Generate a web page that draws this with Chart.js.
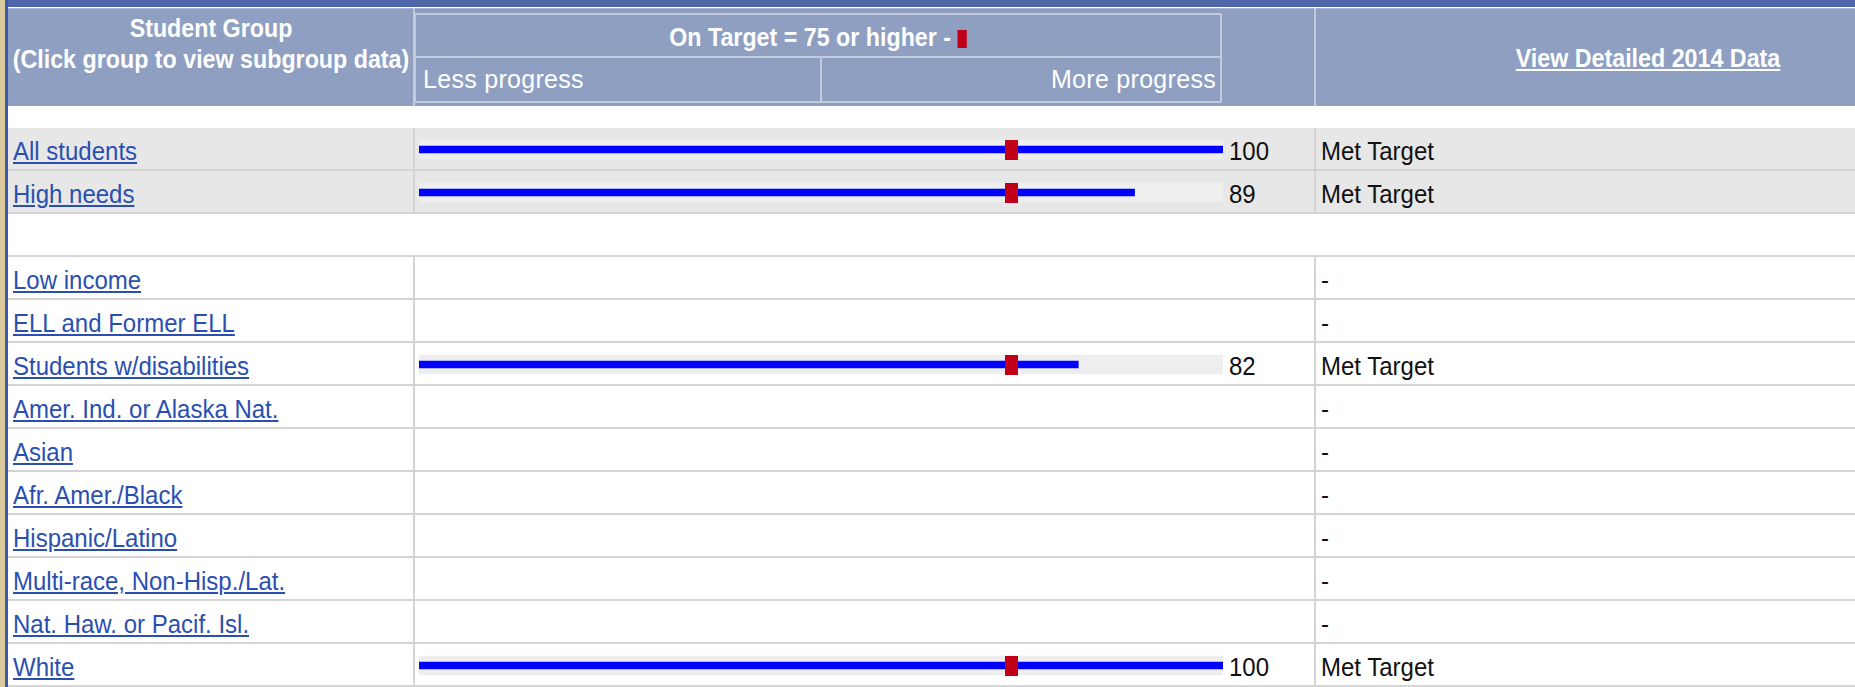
<!DOCTYPE html>
<html>
<head>
<meta charset="utf-8">
<script src="https://cdn.jsdelivr.net/npm/chart.js@4/dist/chart.umd.min.js"></script>
<style>
  body { margin: 0; width: 1855px; height: 687px; overflow: hidden; background: #fff;
         font-family: "Liberation Sans", Arial, sans-serif; }
  .abs { position: absolute; }
  #topbar { left: 0; top: 0; width: 1855px; height: 7px; background: #4f67a8; }
  #edge { left: 0; top: 0; width: 5px; height: 687px; background: #dccb9e; }
  #edgeLine { left: 5px; top: 0; width: 3px; height: 687px; background: #3c58a8; }
  #head { left: 8px; top: 8px; width: 1847px; height: 97px; background: #8e9fc2; border-top: 1px solid #a9b5d0; }
  .hdiv { top: 8px; width: 2px; height: 98px; background: #c3cbdb; }
  .hbox { border: 2px solid #c3cbdb; box-sizing: border-box; }
  .htxt { color: #fff; font-weight: bold; font-size: 25px; line-height: 29px; text-align: center;
          white-space: nowrap; transform: scaleX(0.93); }
  .hlight { color: #fff; font-size: 25px; line-height: 29px; letter-spacing: 0.3px; white-space: nowrap; }
  .row { left: 8px; width: 1847px; height: 43px; box-sizing: border-box; border-bottom: 2px solid #d4d4d4; }
  .lbl, .val, .stat { font-size: 25px; line-height: 29px; white-space: nowrap;
                      transform: scaleX(0.96); transform-origin: left top; }
  .lbl { color: #2a4fb0; text-decoration: underline; left: 13px; }
  .val, .stat { color: #111; }
  .vdiv { width: 2px; background: #d4d4d4; }
  #chartBox { left: 419px; top: 128px; width: 804px; height: 559px; }
</style>
</head>
<body>
<div id="topbar" class="abs"></div>
<div id="head" class="abs"></div>
<div class="abs hdiv" style="left:413px"></div>
<div class="abs hdiv" style="left:1314px"></div>
<div class="abs hbox" style="left:414px; top:13px; width:808px; height:90px;"></div>
<div class="abs" style="left:414px; top:56px; width:808px; height:2px; background:#c3cbdb"></div>
<div class="abs" style="left:820px; top:56px; width:2px; height:46px; background:#c3cbdb"></div>
<div class="abs htxt" style="left:-40px; width:502px; top:14px;">Student Group</div>
<div class="abs htxt" style="left:-40px; width:502px; top:45px;">(Click group to view subgroup data)</div>
<div class="abs htxt" id="targetTitle" style="left:414px; width:808px; top:23px;"></div>
<div class="abs hlight" style="left:423px; top:65px;">Less progress</div>
<div class="abs hlight" style="left:822px; width:394px; top:65px; text-align:right;">More progress</div>
<div class="abs htxt" style="left:1316px; width:664px; top:44px; text-decoration:underline;">View Detailed 2014 Data</div>
<div id="rows"></div>
<div id="chartBox" class="abs"><canvas id="progressChart" width="804" height="559"></canvas></div>
<div id="edge" class="abs"></div>
<div id="edgeLine" class="abs"></div>

<script>
// 학생 그룹 (빈 문자열 = 구분용 빈 행)
const groups = ["All students", "High needs", "", "Low income", "ELL and Former ELL",
    "Students w/disabilities", "Amer. Ind. or Alaska Nat.", "Asian", "Afr. Amer./Black",
    "Hispanic/Latino", "Multi-race, Non-Hisp./Lat.", "Nat. Haw. or Pacif. Isl.", "White"];
const scores = [100, 89, null, null, null, 82, null, null, null, null, null, null, 100];
const statusText = ["Met Target", "Met Target", "", "-", "-", "Met Target", "-", "-", "-", "-", "-", "-", "Met Target"];
const targetValue = 75;      // 제목의 기준값
const targetMarker = 73.7;   // 그림에서 읽은 빨간 표시 위치
const scaleMax = 100;

document.getElementById("targetTitle").innerHTML =
    "On Target = " + targetValue + " or higher - " +
    '<span style="display:inline-block;width:10px;height:18px;background:#c00018;vertical-align:-2px"></span>';

// 표 행 만들기
const rowsDiv = document.getElementById("rows");
groups.forEach((g, i) => {
    const top = 128 + 43 * i;
    const grey = i < 2;
    const row = document.createElement("div");
    row.className = "abs row";
    row.style.top = top + "px";
    row.style.background = grey ? "#e7e7e7" : "#fff";
    rowsDiv.appendChild(row);
    if (g === "") return;
    [413, 1314].forEach(x => {
        const d = document.createElement("div");
        d.className = "abs vdiv";
        d.style.left = x + "px";
        d.style.top = top + "px";
        d.style.height = "43px";
        rowsDiv.appendChild(d);
    });
    const lbl = document.createElement("div");
    lbl.className = "abs lbl";
    lbl.style.top = (top + 9) + "px";
    lbl.textContent = g;
    rowsDiv.appendChild(lbl);
    if (scores[i] != null) {
        const v = document.createElement("div");
        v.className = "abs val";
        v.style.left = "1229px";
        v.style.top = (top + 9) + "px";
        v.textContent = scores[i];
        rowsDiv.appendChild(v);
    }
    const s = document.createElement("div");
    s.className = "abs stat";
    s.style.left = "1321px";
    s.style.top = (top + 9) + "px";
    s.textContent = statusText[i];
    rowsDiv.appendChild(s);
});

// 빨간 표시용 pointStyle
const markerImg = document.createElement("canvas");
markerImg.width = 13;
markerImg.height = 20;
const mctx = markerImg.getContext("2d");
mctx.fillStyle = "#c00018";
mctx.fillRect(0, 0, 13, 20);

// Chart.js 막대 차트
const ctx = document.getElementById("progressChart").getContext("2d");
new Chart(ctx, {
    type: "bar",
    data: {
        labels: groups,
        datasets: [
            {
                label: "track",
                data: scores.map(v => v == null ? null : scaleMax),
                backgroundColor: "#eeeeee",
                barThickness: 19,
                grouped: false,
                order: 3
            },
            {
                label: "score",
                data: scores,
                backgroundColor: "#0000ff",
                barThickness: 7,
                grouped: false,
                order: 2
            },
            {
                type: "line",
                label: "target",
                indexAxis: "y",
                data: scores.map(v => v == null ? null : targetMarker),
                showLine: false,
                pointStyle: markerImg,
                order: 1
            }
        ]
    },
    options: {
        indexAxis: "y",
        responsive: false,
        animation: false,
        devicePixelRatio: 1,
        layout: { padding: 0, autoPadding: false },
        plugins: { legend: { display: false }, tooltip: { enabled: false } },
        scales: {
            x: { type: "linear", min: 0, max: scaleMax, display: false },
            y: { display: false }
        }
    }
});
</script>
</body>
</html>
